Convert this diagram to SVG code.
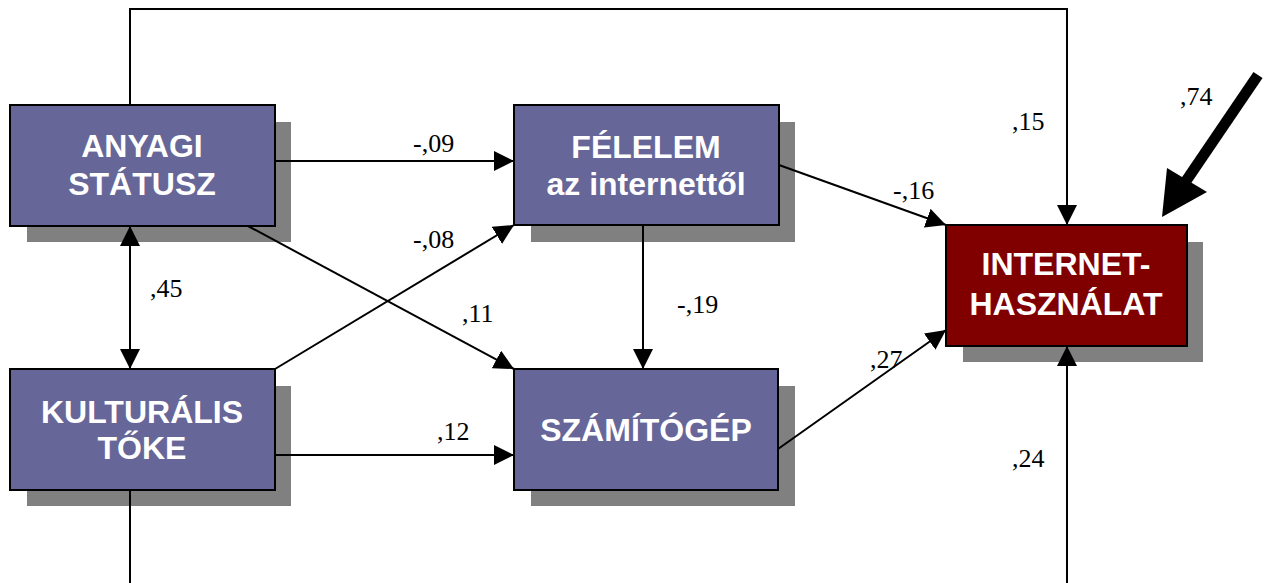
<svg xmlns="http://www.w3.org/2000/svg" width="1266" height="583" viewBox="0 0 1266 583">
  <style>
    .shadow { fill: #808080; }
    .box { fill: #666699; stroke: #000; stroke-width: 2; }
    .box.out { fill: #800000; }
    .title { font-family: "Liberation Sans", Arial, sans-serif; font-weight: bold; font-size: 32px; fill: #fff; text-anchor: middle; }
    .coef { font-family: "Liberation Serif", "Times New Roman", serif; font-size: 26px; fill: #000; }
    .edge { fill: none; stroke: #000; stroke-width: 2; }
  </style>
  <defs>
    <marker id="head" markerUnits="userSpaceOnUse" markerWidth="22" markerHeight="20" refX="20" refY="10" orient="auto-start-reverse">
      <path d="M0,0 L20,10 L0,20 Z" fill="#000"/>
    </marker>
  </defs>

  <rect width="1266" height="583" fill="#fff"/>

  <!-- drop shadows sit beneath the connectors -->
  <g id="shadows">
    <rect class="shadow" x="27" y="122" width="264" height="120"/>
    <rect class="shadow" x="531" y="122" width="264" height="120"/>
    <rect class="shadow" x="27" y="386" width="264" height="120"/>
    <rect class="shadow" x="531" y="386" width="264" height="120"/>
    <rect class="shadow" x="963" y="242" width="240" height="120"/>
  </g>

  <!-- connectors -->
  <g id="connectors">
    <polyline class="edge" points="130,105 130,9 1067,9 1067,225" marker-end="url(#head)"/>
    <polyline class="edge" points="130,490 130,583"/>
    <line class="edge" x1="1067" y1="583" x2="1067" y2="346" marker-end="url(#head)"/>
    <line class="edge" x1="130" y1="226" x2="130" y2="369" marker-start="url(#head)" marker-end="url(#head)"/>
    <line class="edge" x1="275" y1="161" x2="514" y2="161" marker-end="url(#head)"/>
    <line class="edge" x1="248" y1="226" x2="514" y2="369" marker-end="url(#head)"/>
    <line class="edge" x1="275" y1="369" x2="514" y2="225" marker-end="url(#head)"/>
    <line class="edge" x1="275" y1="455" x2="514" y2="455" marker-end="url(#head)"/>
    <line class="edge" x1="643" y1="225" x2="643" y2="369" marker-end="url(#head)"/>
    <line class="edge" x1="779" y1="165" x2="946" y2="225" marker-end="url(#head)"/>
    <line class="edge" x1="778" y1="449" x2="946" y2="330" marker-end="url(#head)"/>
    <!-- residual path -->
    <line x1="1258" y1="75" x2="1186" y2="181" stroke="#000" stroke-width="11"/>
    <path d="M1162,217 L1167,168 L1207,192 Z" fill="#000"/>
  </g>

  <!-- coefficients -->
  <g id="labels">
    <text class="coef" x="413" y="152">-,09</text>
    <text class="coef" x="150" y="297">,45</text>
    <text class="coef" x="413" y="248">-,08</text>
    <text class="coef" x="462" y="322">,11</text>
    <text class="coef" x="437" y="440">,12</text>
    <text class="coef" x="677" y="313">-,19</text>
    <text class="coef" x="893" y="199">-,16</text>
    <text class="coef" x="870" y="368">,27</text>
    <text class="coef" x="1012" y="130">,15</text>
    <text class="coef" x="1180" y="105">,74</text>
    <text class="coef" x="1012" y="467">,24</text>
  </g>

  <g id="anyagi">
    <rect class="box" x="10" y="105" width="265" height="121"/>
    <text class="title" x="142" y="157">ANYAGI</text>
    <text class="title" x="142" y="195">STÁTUSZ</text>
  </g>

  <g id="felelem">
    <rect class="box" x="514" y="105" width="265" height="120"/>
    <text class="title" x="646" y="158">FÉLELEM</text>
    <text class="title" x="646" y="195">az internettől</text>
  </g>

  <g id="kulturalis">
    <rect class="box" x="10" y="369" width="265" height="121"/>
    <text class="title" x="142" y="423">KULTURÁLIS</text>
    <text class="title" x="142" y="459">TŐKE</text>
  </g>

  <g id="szamitogep">
    <rect class="box" x="514" y="369" width="264" height="121"/>
    <text class="title" x="646" y="441">SZÁMÍTÓGÉP</text>
  </g>

  <g id="internet">
    <rect class="box out" x="946" y="225" width="241" height="121"/>
    <text class="title" x="1066" y="275">INTERNET-</text>
    <text class="title" x="1066" y="315">HASZNÁLAT</text>
  </g>
</svg>
